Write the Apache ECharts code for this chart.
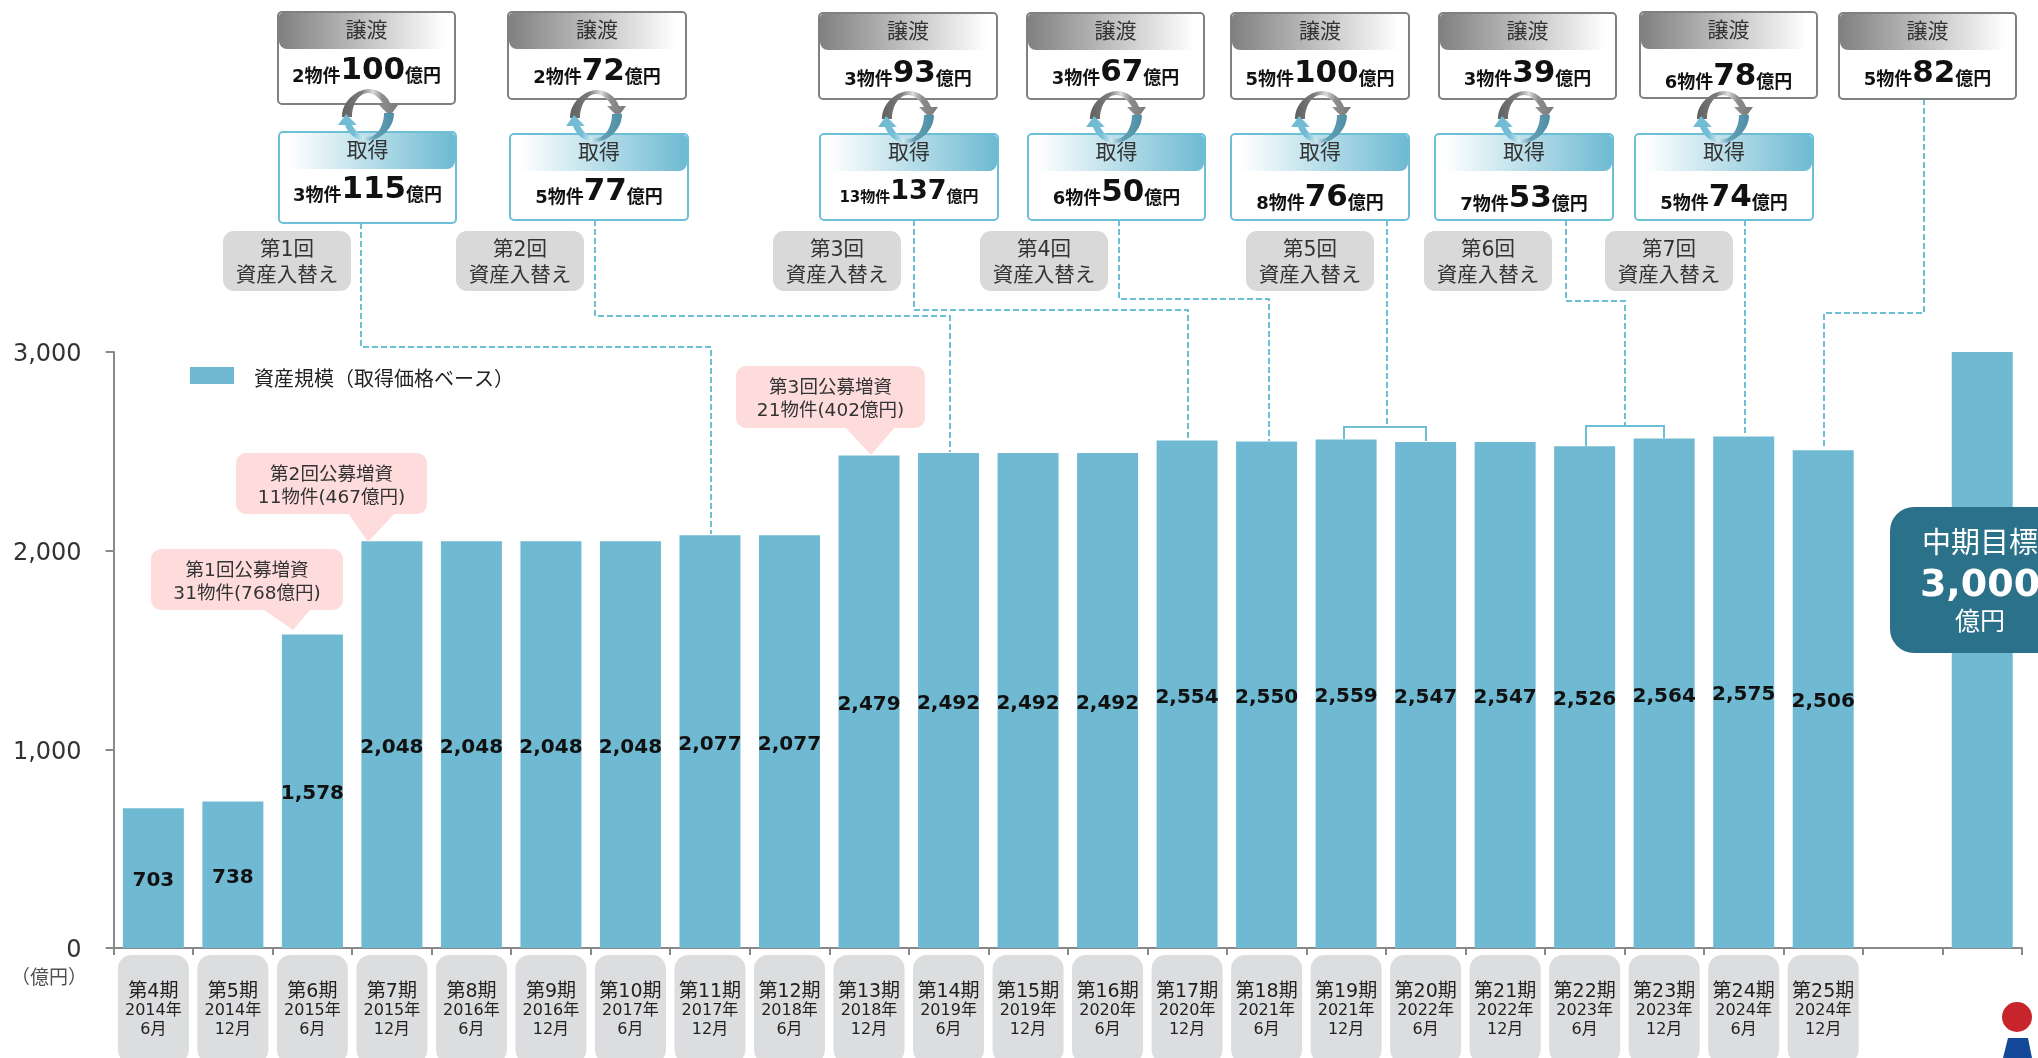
<!DOCTYPE html>
<html>
<head>
<meta charset="utf-8">
<title>資産規模の推移</title>
<style>
html,body{margin:0;padding:0;background:#fff;overflow:hidden;}
#main{width:2038px;height:1058px;}
</style>
<script src="https://cdn.jsdelivr.net/npm/echarts@6/dist/echarts.min.js"></script>
</head>
<body>
<div id="main"></div>
<script>
// データ
var periods = ['第4期','第5期','第6期','第7期','第8期','第9期','第10期','第11期','第12期','第13期','第14期','第15期','第16期','第17期','第18期','第19期','第20期','第21期','第22期','第23期','第24期','第25期','',''];
var periodYears = ['2014年','2014年','2015年','2015年','2016年','2016年','2017年','2017年','2018年','2018年','2019年','2019年','2020年','2020年','2021年','2021年','2022年','2022年','2023年','2023年','2024年','2024年'];
var periodMonths = ['6月','12月','6月','12月','6月','12月','6月','12月','6月','12月','6月','12月','6月','12月','6月','12月','6月','12月','6月','12月','6月','12月'];
var assetValues = [703,738,1578,2048,2048,2048,2048,2077,2077,2479,2492,2492,2492,2554,2550,2559,2547,2547,2526,2564,2575,2506,null,3000];
var yTicks = [0,1000,2000,3000];
var seriesName = '資産規模（取得価格ベース）';

var transferCounts = ['2物件','2物件','3物件','3物件','5物件','3物件','6物件','5物件'];
var transferAmounts = ['100','72','93','67','100','39','78','82'];
var acquireCounts = ['3物件','5物件','13物件','6物件','8物件','7物件','5物件'];
var acquireAmounts = ['115','77','137','50','76','53','74'];
var swapLabels = ['第1回','第2回','第3回','第4回','第5回','第6回','第7回'];
var offeringTitles = ['第1回公募増資','第2回公募増資','第3回公募増資'];
var offeringDetails = ['31物件(768億円)','11物件(467億円)','21物件(402億円)'];

var FONT = '"DejaVu Sans","Noto Sans CJK JP",sans-serif';
var BLUE = '#6FBAD2';
var LINE_BLUE = '#6DBFD6';
var g = [];

// 配置（ピクセル）
var transferBoxes = [[278,12,177,92,71],[508,12,178,87,72],[819,13,178,86,74],[1027,13,177,86,73],[1231,13,178,86,74],[1439,13,177,86,74],[1640,12,177,86,77],[1839,13,177,86,74]];
var acquireBoxes = [[279,132,177,91,190],[510,134,178,86,192],[820,134,178,86,192],[1028,134,177,86,193],[1231,134,178,86,198],[1435,134,178,86,199],[1635,134,178,86,198]];
var swapBoxes = [[223,231],[456,231],[773,231],[980,231],[1246,231],[1424,231],[1605,231]];
var cycleCenters = [[368,114],[596,115],[908,116],[1116,116],[1321,116],[1524,116],[1723,116]];
var offeringBoxes = [[151,549,192,61,263,311,293,630],[236,453,191,61,348,395,368,542],[736,366,189,62,845,895,871,455]];
var connectors = [
	[[361,223],[361,347],[711,347],[711,534]],
	[[595,220],[595,316],[950,316],[950,452]],
	[[914,220],[914,310],[1188,310],[1188,440]],
	[[1119,220],[1119,299],[1269,299],[1269,441]],
	[[1387,220],[1387,427]],
	[[1566,220],[1566,301],[1625,301],[1625,425]],
	[[1745,220],[1745,434]],
	[[1924,99],[1924,313],[1824,313],[1824,449]]
];
var brackets = [
	[[1344,439],[1344,427],[1426,427],[1426,441]],
	[[1586,446],[1586,426],[1664,426],[1664,438]]
];

// 循環矢印の形
echarts.graphic.registerShape('cycleArrow', echarts.graphic.extendPath('M-26,3 C-26,-14 -10,-25 1,-25 C11,-25 20,-18 23,-9 L30,-9 L22,2 L11,-9 L16,-9 C12,-16 6,-21 0,-21 C-9,-21 -16,-10 -16,3 Z', {}));

function linear(stops) {
	return {type:'linear',x:0,y:0,x2:1,y2:0,colorStops:stops};
}

// 譲渡・取得のボックス
function dealBox(b, title, count, amount, border, stops) {
	// 13物件だけ幅が詰まっている
	var tight = count.length > 3;
	g.push({type:'rect',z:50,shape:{x:b[0],y:b[1],width:b[2],height:b[3],r:4},style:{fill:'#fff',stroke:border,lineWidth:2}});
	g.push({type:'rect',z:51,shape:{x:b[0]+1,y:b[1]+1,width:b[2]-2,height:36,r:[4,4,8,8]},style:{fill:linear(stops)}});
	g.push({type:'text',z:52,style:{text:title,x:b[0]+b[2]/2,y:b[1]+20,align:'center',verticalAlign:'middle',font:'21px '+FONT,fill:'#333'}});
	g.push({type:'text',z:52,style:{
		text:'{c|'+count+'}{v|'+amount+'}{n|億円}',
		x:b[0]+b[2]/2,y:b[4],align:'center',verticalAlign:'middle',
		rich:{
			c:{font:'bold '+(tight?15:18)+'px '+FONT,fill:'#111',verticalAlign:'bottom'},
			n:{font:'bold '+(tight?16:18)+'px '+FONT,fill:'#111',verticalAlign:'bottom'},
			v:{font:'bold '+(tight?27:31)+'px '+FONT,fill:'#111'}
		}
	}});
}

// 循環矢印
function cycle(c) {
	g.push({type:'cycleArrow',z:60,x:c[0],y:c[1],style:{fill:linear([{offset:0,color:'#606060'},{offset:0.35,color:'#7c7c7c'},{offset:0.55,color:'#dcdcdc'},{offset:0.72,color:'#8c8c8c'},{offset:1,color:'#7a7a7a'}])}});
	g.push({type:'cycleArrow',z:60,x:c[0],y:c[1]+2,rotation:Math.PI,style:{fill:linear([{offset:0,color:'#4E8FA6'},{offset:0.35,color:'#639fb4'},{offset:0.55,color:'#cfe8f0'},{offset:0.72,color:'#74bdd4'},{offset:1,color:'#6FBAD2'}])}});
}

// 公募増資の吹き出し
function offering(o, title, detail) {
	g.push({type:'polygon',z:40,shape:{points:[[o[4],o[1]+o[3]-1],[o[5],o[1]+o[3]-1],[o[6],o[7]]]},style:{fill:'#FDDCDB'}});
	g.push({type:'rect',z:40,shape:{x:o[0],y:o[1],width:o[2],height:o[3],r:10},style:{fill:'#FDDCDB'}});
	g.push({type:'text',z:41,style:{text:title+'\n'+detail,x:o[0]+o[2]/2,y:o[1]+o[3]/2+3,align:'center',verticalAlign:'middle',font:'18.5px '+FONT,lineHeight:23,fill:'#333'}});
}

transferBoxes.forEach(function(b,i){
	dealBox(b,'譲渡',transferCounts[i],transferAmounts[i],'#808080',[{offset:0,color:'#808080'},{offset:0.95,color:'#ffffff'}]);
});
acquireBoxes.forEach(function(b,i){
	dealBox(b,'取得',acquireCounts[i],acquireAmounts[i],LINE_BLUE,[{offset:0.05,color:'#ffffff'},{offset:1,color:'#6DBAD2'}]);
});
cycleCenters.forEach(cycle);
swapBoxes.forEach(function(b,i){
	g.push({type:'rect',z:30,shape:{x:b[0],y:b[1],width:128,height:60,r:11},style:{fill:'#D9D9D9'}});
	g.push({type:'text',z:31,style:{text:swapLabels[i]+'\n資産入替え',x:b[0]+64,y:b[1]+33,align:'center',verticalAlign:'middle',font:'20.5px '+FONT,lineHeight:26,fill:'#333'}});
});
connectors.forEach(function(pts){
	g.push({type:'polyline',z:20,shape:{points:pts},style:{stroke:LINE_BLUE,lineWidth:2,lineDash:[6,3],fill:null}});
});
brackets.forEach(function(pts){
	g.push({type:'polyline',z:20,shape:{points:pts},style:{stroke:LINE_BLUE,lineWidth:2,fill:null}});
});
offeringBoxes.forEach(function(o,i){
	offering(o,offeringTitles[i],offeringDetails[i]);
});

// 中期目標
g.push({type:'rect',z:70,shape:{x:1890,y:507,width:200,height:146,r:24},style:{fill:'#2B7189'}});
g.push({type:'text',z:71,style:{text:'中期目標',x:1980,y:545,align:'center',verticalAlign:'middle',font:'29px '+FONT,fill:'#fff'}});
g.push({type:'text',z:71,style:{text:'3,000',x:1980,y:586,align:'center',verticalAlign:'middle',font:'bold 38px '+FONT,fill:'#fff'}});
g.push({type:'text',z:71,style:{text:'億円',x:1980,y:623,align:'center',verticalAlign:'middle',font:'25px '+FONT,fill:'#fff'}});

// 単位
g.push({type:'text',z:10,style:{text:'（億円）',x:49,y:979,align:'center',verticalAlign:'middle',font:'19px '+FONT,fill:'#505050'}});

// ロゴ
g.push({type:'circle',z:10,shape:{cx:2017,cy:1017,r:15},style:{fill:'#C8242B'}});
g.push({type:'polygon',z:10,shape:{points:[[2008,1038],[2028,1038],[2032,1058],[2003,1058]]},style:{fill:'#14499A'}});

var labelIdx = [];
for (var i = 0; i < periodYears.length; i++) {
	labelIdx.push(i);
}

var myChart = echarts.init(document.getElementById('main'), null, {renderer:'canvas'});
var option = {
	backgroundColor:'#fff',
	animation:false,
	textStyle:{fontFamily:FONT},
	grid:{left:113.6,right:16,top:352,bottom:110,containLabel:false,outerBoundsMode:'none'},
	legend:{
		left:185,top:362,
		itemWidth:44,itemHeight:17,
		data:[{name:seriesName,icon:'rect'}],
		formatter:function(name){return '{t|'+name+'}';},
		textStyle:{
			rich:{t:{fontFamily:FONT,fontSize:20,color:'#222',padding:[10,0,0,15]}}
		}
	},
	xAxis:{
		type:'category',
		data:periods,
		axisLine:{lineStyle:{color:'#898989',width:2}},
		axisTick:{show:true,length:7,alignWithLabel:false,lineStyle:{color:'#898989',width:2}},
		axisLabel:{
			interval:0,
			margin:7,
			customValues:labelIdx,
			formatter:function(value,index){
				return '{a|'+periods[index]+'}\n{b|'+periodYears[index]+'}\n{c|'+periodMonths[index]+'}';
			},
			backgroundColor:'#DCDDDF',
			borderRadius:14,
			width:71,
			padding:[27,0,25,0],
			align:'center',
			rich:{
				a:{fontFamily:FONT,fontSize:19,lineHeight:20,color:'#222',align:'center'},
				b:{fontFamily:FONT,fontSize:16,lineHeight:18,color:'#222',align:'center'},
				c:{fontFamily:FONT,fontSize:16,lineHeight:19,color:'#222',align:'center'}
			}
		}
	},
	yAxis:{
		type:'value',
		min:yTicks[0],
		max:yTicks[yTicks.length-1],
		interval:yTicks[1]-yTicks[0],
		splitLine:{show:false},
		axisLine:{show:true,lineStyle:{color:'#898989',width:2}},
		axisTick:{show:true,length:8,lineStyle:{color:'#898989',width:2}},
		axisLabel:{
			margin:32,
			formatter:function(v){return '{t|'+v.toLocaleString('en-US')+'}';},
			rich:{t:{fontFamily:FONT,fontSize:24,color:'#333',padding:[6,0,0,0]}}
		}
	},
	series:[{
		name:seriesName,
		type:'bar',
		data:assetValues,
		barWidth:61,
		itemStyle:{color:BLUE},
		label:{
			show:true,
			position:'inside',
			formatter:function(p){
				return p.dataIndex < 22 ? '{t|'+p.value.toLocaleString('en-US')+'}' : '';
			},
			rich:{t:{fontFamily:FONT,fontSize:20,fontWeight:'bold',color:'#111',padding:[6,0,0,0]}}
		}
	}],
	graphic:g
};
myChart.setOption(option);
</script>
</body>
</html>
